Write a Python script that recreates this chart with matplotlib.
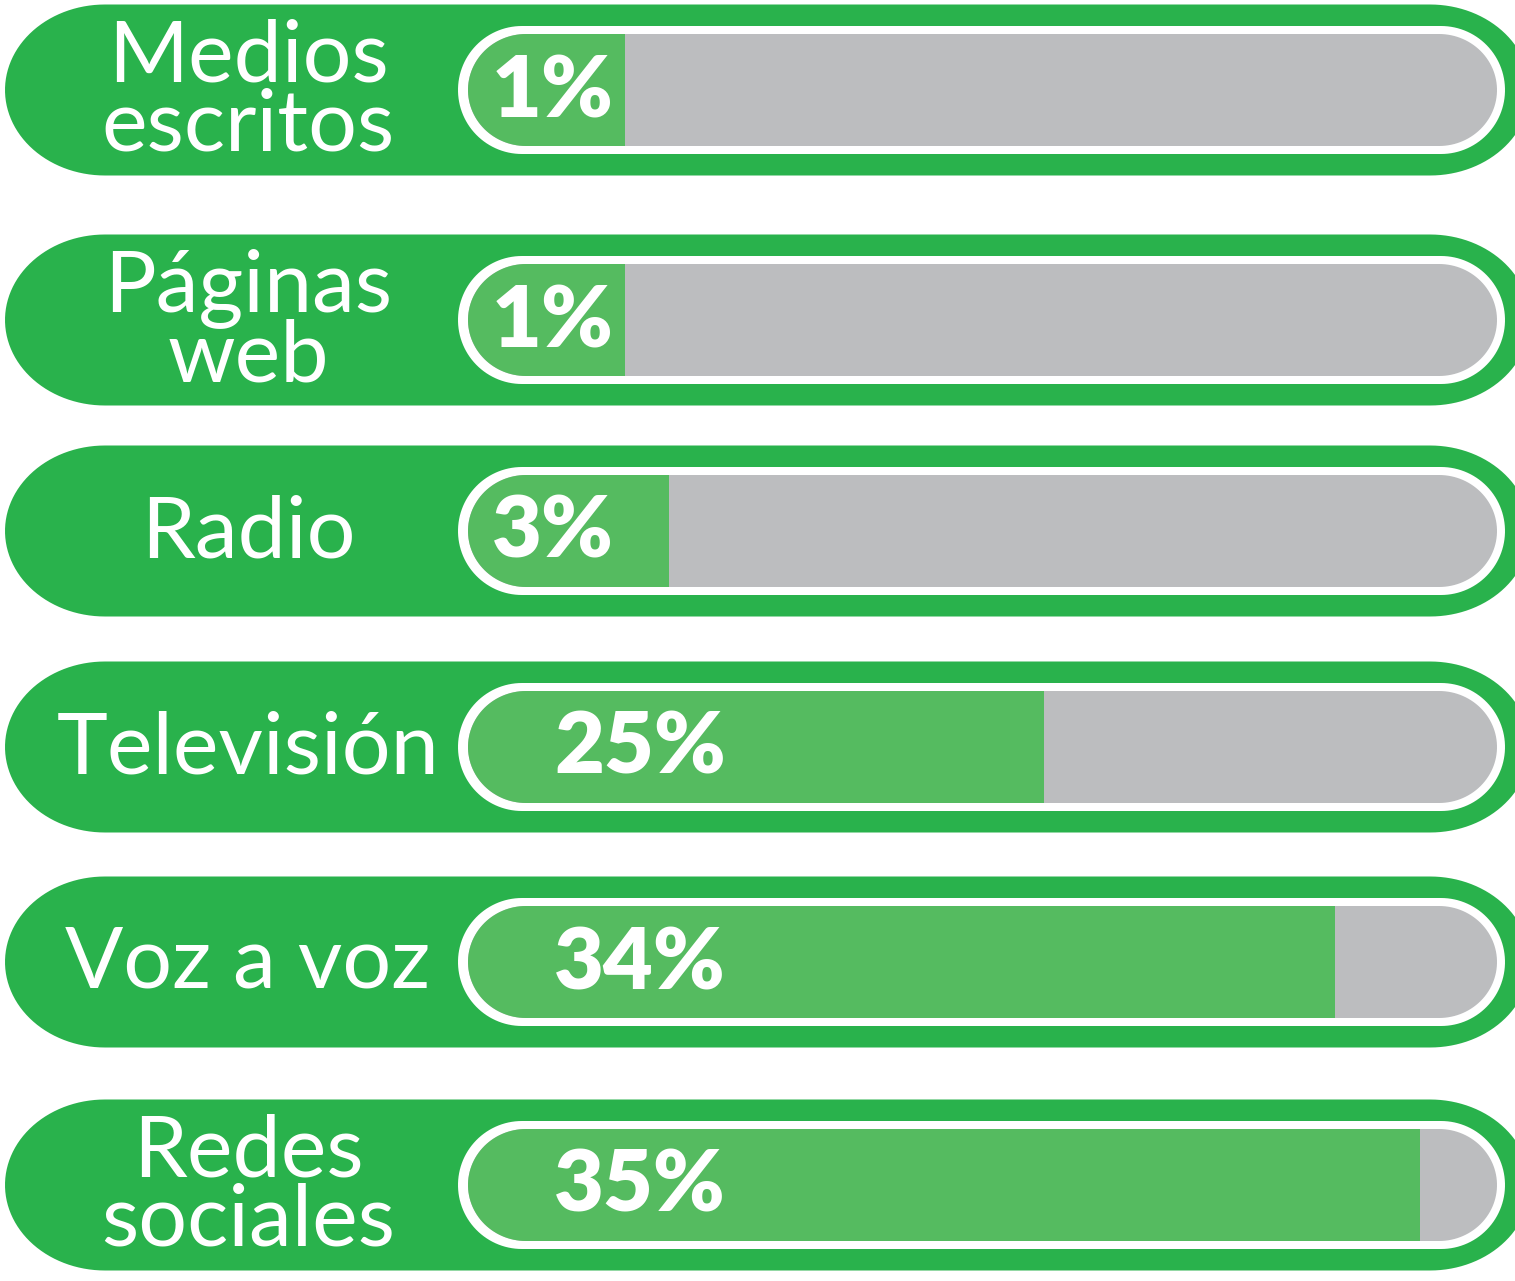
import numpy as np
import matplotlib.pyplot as plt
from matplotlib.patches import Polygon, Rectangle

categories = ['Medios\nescritos', 'Páginas\nweb', 'Radio', 'Televisión', 'Voz a voz', 'Redes\nsociales']
percent_labels = ['1%', '1%', '3%', '25%', '34%', '35%']
# share of the track that is filled, as drawn in the picture (0-100)
fill_share = [15.3, 15.3, 19.5, 56.0, 84.3, 92.5]

outer_green = '#29b24c'
bar_green = '#55bb60'
track_gray = '#bcbdbf'


def pill(x0, x1, yc, h, rx, n=60):
    ry = h / 2
    t = np.linspace(np.pi / 2, 3 * np.pi / 2, n)
    left = np.column_stack([x0 + rx + rx * np.cos(t), yc + ry * np.sin(t)])
    t2 = np.linspace(-np.pi / 2, np.pi / 2, n)
    right = np.column_stack([x1 - rx + rx * np.cos(t2), yc + ry * np.sin(t2)])
    return np.vstack([left, right])


fig = plt.figure(figsize=(15.15, 12.81), dpi=100)
ax = fig.add_axes([0, 0, 1, 1])
ax.set_xlim(0, 1515)
ax.set_ylim(1281, 0)
ax.axis('off')

row_y = [90, 320, 531, 747, 962, 1185]
track_x0, track_x1 = 468, 1497

for i, cat in enumerate(categories):
    yc = row_y[i]
    # outer pill
    ax.add_patch(Polygon(pill(5, 1530, yc, 171, 100), closed=True, fc=outer_green, ec='none'))
    # white ring
    ax.add_patch(Polygon(pill(458, 1505, yc, 128, 64), closed=True, fc='white', ec='none'))
    # gray track
    track = Polygon(pill(track_x0, track_x1, yc, 112, 58), closed=True, fc=track_gray, ec='none')
    ax.add_patch(track)
    # green fill
    x_end = track_x0 + fill_share[i] / 100 * (track_x1 - track_x0)
    fill = Rectangle((track_x0, yc - 60), x_end - track_x0, 120, fc=bar_green, ec='none')
    ax.add_patch(fill)
    fill.set_clip_path(track)

    ax.text(248, yc + 2, cat, ha='center', va='center', color='white',
            fontsize=62, family='Lato', fontweight='normal', linespacing=0.85)

    lx = track_x0 + 85 if fill_share[i] < 30 else 640
    ax.text(lx, yc + 2, percent_labels[i], ha='center', va='center', color='white',
            fontsize=62, family='Lato', fontweight='heavy')

fig.savefig('out.png', dpi=100)
